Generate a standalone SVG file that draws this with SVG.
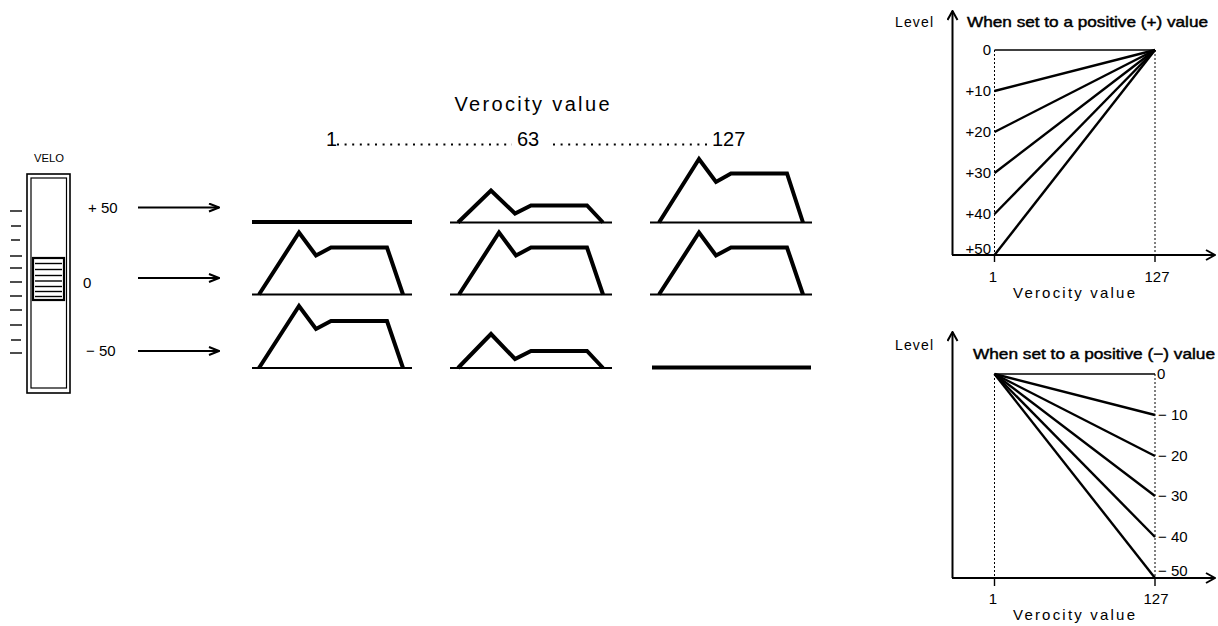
<svg xmlns="http://www.w3.org/2000/svg" width="1218" height="626" viewBox="0 0 1218 626">
<defs>
<style>
text{font-family:"Liberation Sans",Arial,sans-serif;fill:#000}
.env{fill:none;stroke:#000;stroke-width:4;stroke-linejoin:miter}
.base{stroke:#000;stroke-width:1.8}
.flat{stroke:#000;stroke-width:4}
.arr{stroke:#000;stroke-width:2;fill:none}
.axis{stroke:#000;stroke-width:2;fill:none}
.dot{stroke:#000;stroke-width:1;stroke-dasharray:2 2;fill:none}
.ln{stroke:#000;stroke-width:2.4;fill:none}
.thin{stroke:#000;stroke-width:1.6;fill:none}
.lead{stroke:#000;stroke-width:2;stroke-dasharray:2 5.6;fill:none}
.tick{stroke:#000;stroke-width:1.4}
.lbl{font-size:15px}
.glbl{font-size:15px}
.ttl{font-size:15px;stroke:#000;stroke-width:0.45}
.lvl{font-size:14px}
</style>
<marker id="ah" viewBox="0 0 12 10" refX="11" refY="5" markerWidth="12" markerHeight="10" markerUnits="userSpaceOnUse" orient="auto">
<path d="M1,1 L11,5 L1,9" fill="none" stroke="#000" stroke-width="2"/>
</marker>
<marker id="ax" viewBox="0 0 12 12" refX="11" refY="6" markerWidth="12" markerHeight="12" markerUnits="userSpaceOnUse" orient="auto">
<path d="M2,1 L11,6 L2,11" fill="none" stroke="#000" stroke-width="2"/>
</marker>
</defs>
<rect width="1218" height="626" fill="#fff"/>

<g id="slider">
<text x="49" y="162" font-size="11" text-anchor="middle" textLength="30" lengthAdjust="spacingAndGlyphs">VELO</text>
<rect x="27" y="174" width="43" height="219" fill="none" stroke="#000" stroke-width="1.6"/>
<rect x="31" y="178" width="35.5" height="210" fill="none" stroke="#000" stroke-width="1.2"/>
<rect x="33" y="258" width="31" height="42" fill="#fff" stroke="#000" stroke-width="2.2"/>
<g class="tick">
<line x1="35" y1="263.5" x2="62" y2="263.5"/>
<line x1="35" y1="269.5" x2="62" y2="269.5"/>
<line x1="35" y1="275.5" x2="62" y2="275.5"/>
<line x1="35" y1="281" x2="62" y2="281"/>
<line x1="35" y1="286.5" x2="62" y2="286.5"/>
<line x1="35" y1="291.5" x2="62" y2="291.5"/>
<line x1="35" y1="296.5" x2="62" y2="296.5"/>
</g>
<g class="tick">
<line x1="10" y1="211" x2="22" y2="211"/>
<line x1="11" y1="226" x2="21" y2="226"/>
<line x1="11" y1="240" x2="20" y2="240"/>
<line x1="10" y1="256" x2="22" y2="256"/>
<line x1="10" y1="268" x2="22" y2="268"/>
<line x1="10" y1="282" x2="22" y2="282"/>
<line x1="10" y1="296" x2="22" y2="296"/>
<line x1="10" y1="310" x2="22" y2="310"/>
<line x1="10" y1="325" x2="22" y2="325"/>
<line x1="11" y1="340" x2="21" y2="340"/>
<line x1="10" y1="353" x2="22" y2="353"/>
</g>
</g>

<g id="labels-left">
<text class="lbl" x="88" y="213">+ 50</text>
<text class="lbl" x="83" y="288">0</text>
<text class="lbl" x="86" y="356">− 50</text>
</g>

<g id="connectors">
<line class="arr" x1="138" y1="207.5" x2="219" y2="207.5" marker-end="url(#ah)"/>
<line class="arr" x1="138" y1="278" x2="219" y2="278" marker-end="url(#ah)"/>
<line class="arr" x1="138" y1="351" x2="219" y2="351" marker-end="url(#ah)"/>
</g>

<g id="header">
<text x="532" y="111" font-size="20" text-anchor="middle" textLength="155" lengthAdjust="spacing">Verocity  value</text>
<text x="326" y="146" font-size="20">1</text>
<line class="lead" x1="337" y1="144.5" x2="512" y2="144.5"/>
<text x="517" y="146" font-size="20">63</text>
<line class="lead" x1="553" y1="144.5" x2="710" y2="144.5"/>
<text x="712" y="146" font-size="20">127</text>
</g>

<g id="col1">
<line class="flat" x1="252" y1="222" x2="412" y2="222"/>
<line class="base" x1="252" y1="294.5" x2="412" y2="294.5"/>
<polyline class="env" points="259,294.5 299,232.5 316,255.5 331,247.5 387,247.5 403,294.5"/>
<line class="base" x1="252" y1="368" x2="412" y2="368"/>
<polyline class="env" points="259,368 299,306 316,329 331,321 387,321 403,368"/>
</g>

<g id="col2">
<line class="base" x1="450" y1="222.5" x2="612" y2="222.5"/>
<polyline class="env" points="458,222.5 491,190.5 515,213.5 531,205.5 587,205.5 603,222.5"/>
<line class="base" x1="450" y1="294.5" x2="612" y2="294.5"/>
<polyline class="env" points="459,294.5 499,232.5 516,255.5 531,247.5 587,247.5 603,294.5"/>
<line class="base" x1="450" y1="368" x2="612" y2="368"/>
<polyline class="env" points="458,368 491,334 515,359 531,351 587,351 603,368"/>
</g>

<g id="col3">
<line class="base" x1="650" y1="222.5" x2="812" y2="222.5"/>
<polyline class="env" points="659,222.5 699,159 716,182 731,173.5 787,173.5 803,222.5"/>
<line class="base" x1="650" y1="294.5" x2="812" y2="294.5"/>
<polyline class="env" points="659,294.5 699,232.5 716,255.5 731,247.5 787,247.5 803,294.5"/>
<line class="flat" x1="652" y1="367.5" x2="811" y2="367.5"/>
</g>

<g id="graph-positive">
<line class="axis" x1="952.5" y1="255" x2="952.5" y2="11" marker-end="url(#ax)"/>
<line class="axis" x1="952" y1="255" x2="1215" y2="255" marker-end="url(#ax)"/>
<text class="lvl" x="895" y="27" textLength="38" lengthAdjust="spacing">Level</text>
<text class="ttl" x="967" y="27" textLength="241" lengthAdjust="spacingAndGlyphs">When set to a positive (+) value</text>
<line class="dot" x1="994.5" y1="50" x2="994.5" y2="255"/>
<line class="dot" x1="1155" y1="50" x2="1155" y2="255"/>
<line class="thin" x1="994.5" y1="50" x2="1155" y2="50"/>
<line class="ln" x1="994.5" y1="91" x2="1155" y2="50"/>
<line class="ln" x1="994.5" y1="132" x2="1155" y2="50"/>
<line class="ln" x1="994.5" y1="173" x2="1155" y2="50"/>
<line class="ln" x1="994.5" y1="214" x2="1155" y2="50"/>
<line class="ln" x1="994.5" y1="255" x2="1155" y2="50"/>
<g class="glbl" text-anchor="end">
<text x="991" y="55">0</text>
<text x="991" y="96">+10</text>
<text x="991" y="137">+20</text>
<text x="991" y="178">+30</text>
<text x="991" y="219">+40</text>
<text x="991" y="254">+50</text>
</g>
<line class="tick" x1="994.5" y1="255" x2="994.5" y2="262"/>
<line class="tick" x1="1155" y1="255" x2="1155" y2="262"/>
<text class="glbl" x="993" y="282" text-anchor="middle">1</text>
<text class="glbl" x="1157" y="282" text-anchor="middle">127</text>
<text class="glbl" x="1074" y="298" text-anchor="middle" textLength="122" lengthAdjust="spacing">Verocity  value</text>
</g>

<g id="graph-negative">
<line class="axis" x1="952.5" y1="578" x2="952.5" y2="332" marker-end="url(#ax)"/>
<line class="axis" x1="952" y1="578" x2="1215" y2="578" marker-end="url(#ax)"/>
<text class="lvl" x="895" y="350" textLength="38" lengthAdjust="spacing">Level</text>
<text class="ttl" x="973" y="359" textLength="242" lengthAdjust="spacingAndGlyphs">When set to a positive (−) value</text>
<line class="dot" x1="994.5" y1="374" x2="994.5" y2="578"/>
<line class="dot" x1="1155" y1="374" x2="1155" y2="578"/>
<line class="thin" x1="994.5" y1="374" x2="1155" y2="374"/>
<line class="ln" x1="994.5" y1="374" x2="1155" y2="415"/>
<line class="ln" x1="994.5" y1="374" x2="1155" y2="456"/>
<line class="ln" x1="994.5" y1="374" x2="1155" y2="496"/>
<line class="ln" x1="994.5" y1="374" x2="1155" y2="537"/>
<line class="ln" x1="994.5" y1="374" x2="1155" y2="578"/>
<g class="glbl">
<text x="1157" y="379">0</text>
<text x="1158" y="420">− 10</text>
<text x="1158" y="461">− 20</text>
<text x="1158" y="501">− 30</text>
<text x="1158" y="542">− 40</text>
<text x="1158" y="576">− 50</text>
</g>
<line class="tick" x1="994.5" y1="578" x2="994.5" y2="586"/>
<line class="tick" x1="1155" y1="578" x2="1155" y2="586"/>
<text class="glbl" x="993" y="604" text-anchor="middle">1</text>
<text class="glbl" x="1156" y="604" text-anchor="middle">127</text>
<text class="glbl" x="1074" y="620" text-anchor="middle" textLength="122" lengthAdjust="spacing">Verocity  value</text>
</g>
</svg>
